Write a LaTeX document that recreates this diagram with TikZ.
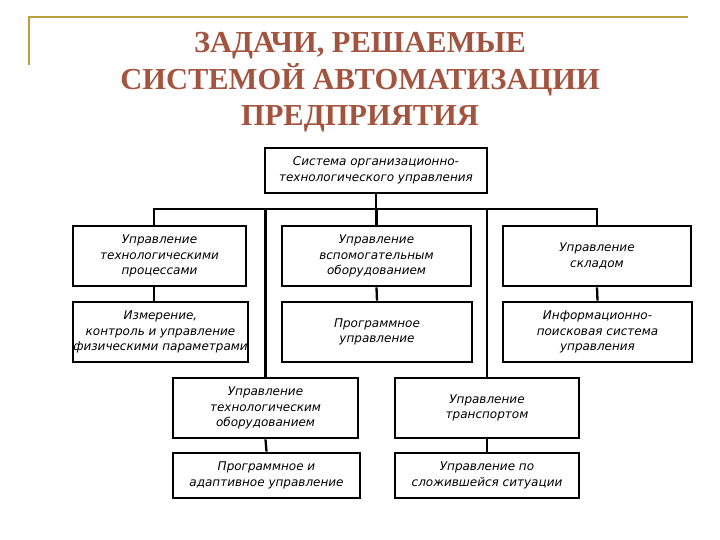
\documentclass[tikz,border=0pt]{standalone}
\usepackage{fontspec}
\setmainfont{Liberation Serif}
\newfontfamily\handfont{DejaVu Sans}
\definecolor{titlered}{RGB}{163,84,62}
\definecolor{gold}{RGB}{184,160,64}
\tikzset{
  box/.style={draw=black, line width=2.8pt, inner sep=0pt, align=center,
    font=\handfont\itshape\fontsize{12}{15.5}\selectfont},
  conn/.style={draw=black, line width=2.3pt},
  ttl/.style={anchor=base, text=titlered, inner sep=0pt,
    font=\bfseries\fontsize{30.5}{36}\selectfont}
}
\begin{document}
\begin{tikzpicture}[x=1pt,y=-1pt]
\useasboundingbox[fill=white] (0,0) rectangle (720,540);
% title decoration
\draw[gold, line width=1.8pt] (29,65) -- (29,17) -- (688,17);
\node[ttl] (t1) at (360,53) {ЗАДАЧИ, РЕШАЕМЫЕ};
\node[ttl] (t2) at (360,90) {СИСТЕМОЙ АВТОМАТИЗАЦИИ};
\node[ttl] (t3) at (360,126) {ПРЕДПРИЯТИЯ};
% boxes
\node[box, minimum width=222, minimum height=45] (top) at (376,170.5) {Система организационно-\\технологического управления};
\node[box, minimum width=173, minimum height=60] (A) at (159.5,256) {Управление\\технологическими\\процессами};
\node[box, minimum width=189, minimum height=60] (B) at (376.5,256) {Управление\\вспомогательным\\оборудованием};
\node[box, minimum width=188, minimum height=60] (C) at (597,256) {Управление\\складом};
\node[box, minimum width=175, minimum height=60] (A2) at (160.5,332) {Измерение,\\контроль и управление\\физическими параметрами};
\node[box, minimum width=190, minimum height=60] (B2) at (377,332) {Программное\\управление};
\node[box, minimum width=189, minimum height=60] (C2) at (597.5,332) {Информационно-\\поисковая система\\управления};
\node[box, minimum width=185, minimum height=60] (D) at (265.5,408) {Управление\\технологическим\\оборудованием};
\node[box, minimum width=184, minimum height=60] (E) at (487,408) {Управление\\транспортом};
\node[box, minimum width=187, minimum height=45] (D2) at (266.5,475.5) {Программное и\\адаптивное управление};
\node[box, minimum width=184, minimum height=45] (E2) at (487,475.5) {Управление по\\сложившейся ситуации};
% connectors
\coordinate (busL) at (154,209);
\coordinate (busR) at (C.north |- busL);
\draw[conn] (top.south) -- (top.south |- busL);
\draw[conn] (busL |- A.north) -- (busL) -- (busR) -- (C.north);
\draw[conn] (B.north |- busL) -- (B.north);
\draw[conn] (D.north |- busL) -- (D.north);
\draw[conn] (E.north |- busL) -- (E.north);
\draw[conn] (busL |- A.south) -- (busL |- A2.north);
\draw[conn] (B.south) -- (B2.north);
\draw[conn] (C.south) -- (C2.north);
\draw[conn] (D.south) -- (D2.north);
\draw[conn] (E.south) -- (E2.north);
\end{tikzpicture}
\end{document}
